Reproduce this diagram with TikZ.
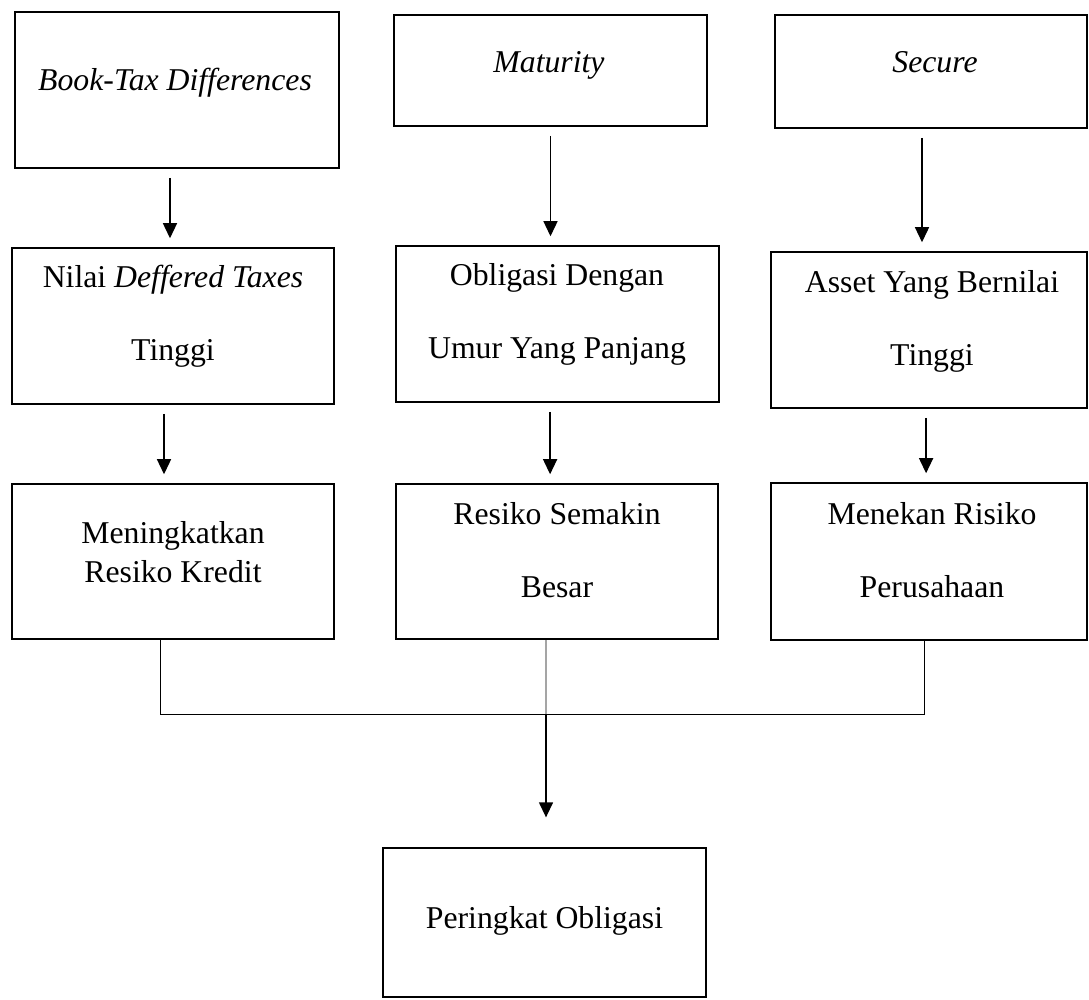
\documentclass[tikz,border=0pt]{standalone}
\usepackage{fontspec}
\setmainfont{Liberation Serif}
\usetikzlibrary{arrows.meta}

\newcommand{\pxu}{0.378pt}

\tikzset{
  kotak/.style={draw, line width=0.57pt, inner sep=0pt},
  teks/.style={anchor=base, align=center, inner sep=0pt, font=\fontsize{12}{27.4}\selectfont},
  panah/.style={-{Triangle[width=5.3pt,length=5.7pt]}, line width=0.55pt, shorten <=3.4pt, shorten >=3.4pt},
  garis/.style={line width=0.3pt}
}

\begin{document}
\begin{tikzpicture}[x=0.378pt, y=-0.378pt]
\useasboundingbox (0,0) rectangle (1089,999);

% baris atas
\node[kotak, minimum width=324*\pxu, minimum height=156*\pxu] (btd) at (177,90) {};
\node[kotak, minimum width=313*\pxu, minimum height=111*\pxu] (mat) at (550.5,70.5) {};
\node[kotak, minimum width=312*\pxu, minimum height=113*\pxu] (sec) at (931,71.5) {};

\node[teks] (btdT) at (175,90) {\textit{Book-Tax Differences}};
\node[teks] (matT) at (549,72) {\textit{Maturity}};
\node[teks] (secT) at (935,72) {\textit{Secure}};

% baris tengah
\node[kotak, minimum width=322*\pxu, minimum height=156*\pxu] (dtx) at (173,326) {};
\node[kotak, minimum width=323*\pxu, minimum height=156*\pxu] (umur) at (557.5,324) {};
\node[kotak, minimum width=316*\pxu, minimum height=156*\pxu] (aset) at (929,330) {};

\node[teks] (dtxT) at (173,360) {Nilai \textit{Deffered Taxes}\\Tinggi};
\node[teks] (umurT) at (557,358) {Obligasi Dengan\\Umur Yang Panjang};
\node[teks] (asetT) at (932,365) {Asset Yang Bernilai\\Tinggi};

% baris bawah
\node[kotak, minimum width=322*\pxu, minimum height=155*\pxu] (kredit) at (173,561.5) {};
\node[kotak, minimum width=322*\pxu, minimum height=155*\pxu] (besar) at (557,561.5) {};
\node[kotak, minimum width=316*\pxu, minimum height=157*\pxu] (tekan) at (929,561.5) {};

\node[teks, font=\fontsize{12}{14.7}\selectfont] (kreditT) at (173,582) {Meningkatkan\\Resiko Kredit};
\node[teks] (besarT) at (557,597) {Resiko Semakin\\Besar};
\node[teks] (tekanT) at (932,597) {Menekan Risiko\\Perusahaan};

% hasil
\node[kotak, minimum width=323*\pxu, minimum height=149*\pxu] (rating) at (544.5,922.5) {};
\node[teks] (ratingT) at (544.5,928) {Peringkat Obligasi};

% panah
\draw[panah] ([xshift=-2.65pt]btd.south) -- ([xshift=-2.65pt]btd.south |- dtx.north);
\draw[panah] ([xshift=-3.4pt]dtx.south) -- ([xshift=-3.4pt]dtx.south |- kredit.north);
\draw[panah] (mat.south) -- (mat.south |- umur.north);
\draw[panah] ([xshift=-2.8pt]umur.south) -- ([xshift=-2.8pt]umur.south |- besar.north);
\draw[panah] ([xshift=-3.4pt]sec.south) -- ([xshift=-3.4pt]sec.south |- aset.north);
\draw[panah] ([xshift=-1.1pt]aset.south) -- ([xshift=-1.1pt]aset.south |- tekan.north);

% gabungan ke peringkat
\coordinate (simpul) at (546,714);
\draw[garis] ([xshift=-4.9pt]kredit.south) |- ([xshift=-1.9pt]tekan.south |- simpul) -- ([xshift=-1.9pt]tekan.south);
\draw[garis] ([xshift=-4.16pt]besar.south) -- (simpul);
\draw[panah, shorten <=0pt, shorten >=11.3pt] (simpul) -- (simpul |- rating.north);

\end{tikzpicture}
\end{document}
